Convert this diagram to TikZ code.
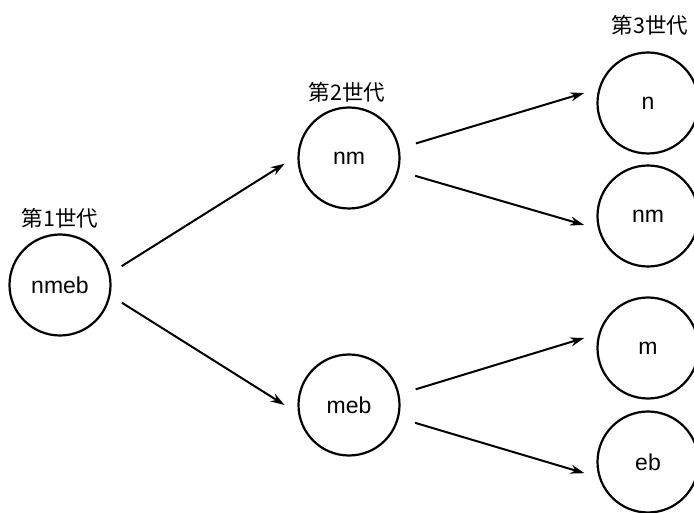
\documentclass[tikz,border=0pt]{standalone}
\usepackage{fontspec}
\setmainfont{Liberation Sans}
\newfontfamily\cjk{Noto Sans CJK JP}
\usetikzlibrary{arrows.meta}
\begin{document}
\begin{tikzpicture}[x=1pt,y=-1pt,
  gen/.style={circle,draw,fill=white,line width=2.2pt,minimum size=101pt,inner sep=0pt,outer sep=14pt,
              font=\fontsize{23}{23}\selectfont},
  lab/.style={font=\cjk\fontsize{21.5}{21.5}\selectfont},
  arr/.style={line width=2pt,-{Stealth[length=14pt,width=9pt]}}]
\useasboundingbox (0,0) rectangle (694,513);
\clip (0,0) rectangle (694,513);
% generation labels
\node[lab] (l1) at (60,218) {第1世代};
\node[lab] (l2) at (347,92) {第2世代};
\node[lab] (l3) at (650,25) {第3世代};
% circles
\node[gen] (g1) at (60,285) {nmeb};
\node[gen] (nm2) at (349,158) {nm};
\node[gen] (meb2) at (349,405) {meb};
\node[gen] (n3) at (648,103) {n};
\node[gen] (nm3) at (648,216) {nm};
\node[gen] (m3) at (648,348) {m};
\node[gen] (eb3) at (648,462) {eb};
% arrows
\draw[arr] (g1.17) -- (nm2.185);
\draw[arr] (g1.-16) -- (meb2.180);
\draw[arr,shorten <=4pt] (nm2.12) -- (n3.171);
\draw[arr,shorten <=4pt] (nm2.-15) -- (nm3.188);
\draw[arr,shorten <=4pt] (meb2.13) -- (m3.171);
\draw[arr,shorten <=4pt] (meb2.-15) -- (eb3.190);
\end{tikzpicture}
\end{document}
